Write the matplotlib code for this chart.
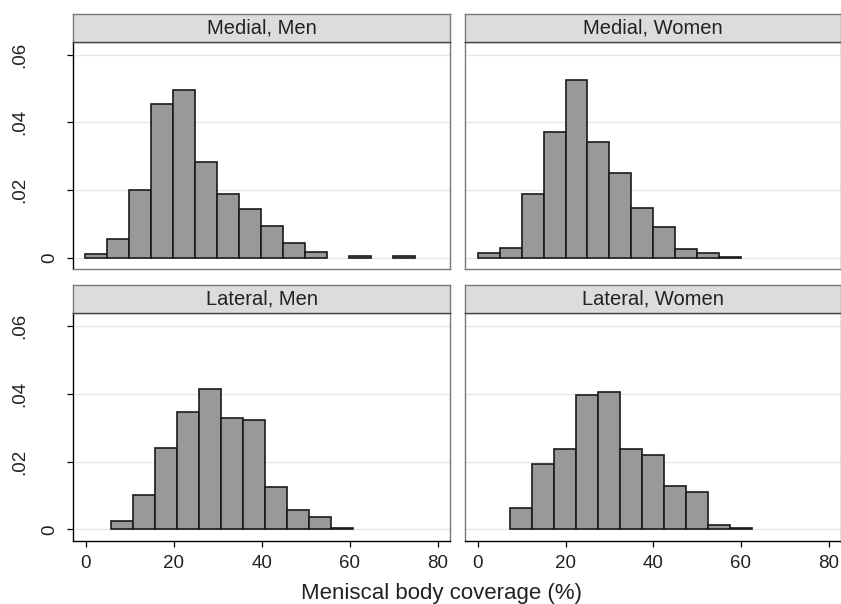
import matplotlib.pyplot as plt
import numpy as np

plt.rcParams['font.family'] = ['Liberation Sans', 'DejaVu Sans']

# densities, bins of width 5
bin_width = 5.0

medial_men_start = -0.15
medial_men = [0.0012, 0.0057, 0.0201, 0.0454, 0.0494, 0.0284, 0.0190, 0.0145,
              0.0095, 0.0043, 0.0019, 0.0, 0.0005, 0.0, 0.0005]

medial_women_start = 0.0
medial_women = [0.0015, 0.0030, 0.0188, 0.0372, 0.0525, 0.0341, 0.0250, 0.0147,
                0.0092, 0.0026, 0.0015, 0.0003]

lateral_men_start = 5.7
lateral_men = [0.0025, 0.0101, 0.0240, 0.0345, 0.0415, 0.0327, 0.0321, 0.0125,
               0.0057, 0.0037, 0.0005]

lateral_women_start = 7.45
lateral_women = [0.0062, 0.0193, 0.0238, 0.0396, 0.0406, 0.0238, 0.0219, 0.0128,
                 0.0109, 0.0012, 0.0005]

titles = ['Medial, Men', 'Medial, Women', 'Lateral, Men', 'Lateral, Women']
starts = [medial_men_start, medial_women_start, lateral_men_start, lateral_women_start]
series = [medial_men, medial_women, lateral_men, lateral_women]

y_ticks = [0, 0.02, 0.04, 0.06]
y_labels = ['0', '.02', '.04', '.06']
x_ticks = [0, 20, 40, 60, 80]

W, H = 841, 604
fig = plt.figure(figsize=(W / 100, H / 100), dpi=100)

# panel boxes in pixels: (left, right, strip top, plot top, plot bottom)
cols = [(73, 450), (465.3, 840.5)]
rows = [(14, 42, 269.3), (285, 313.3, 540.7)]

gray_edge = '#7a7a7a'

for i, (title, start, vals) in enumerate(zip(titles, starts, series)):
    r, c = divmod(i, 2)
    x0, x1 = cols[c]
    s_top, p_top, p_bot = rows[r]

    ax = fig.add_axes([x0 / W, (H - p_bot) / H, (x1 - x0) / W, (p_bot - p_top) / H])
    st = fig.add_axes([x0 / W, (H - p_top) / H, (x1 - x0) / W, (p_top - s_top) / H])

    # strip
    st.set_facecolor('#dcdcdc')
    st.set_xticks([])
    st.set_yticks([])
    for sp in st.spines.values():
        sp.set_color(gray_edge)
        sp.set_linewidth(1.0)
    st.spines['bottom'].set_color('#444444')
    st.text(0.5, 0.5, title, transform=st.transAxes, ha='center', va='center',
            fontsize=14.5, color='#222222')

    # bars
    vals = np.array(vals)
    edges = start + bin_width * np.arange(len(vals))
    keep = vals > 0
    ax.bar(edges[keep], vals[keep], width=bin_width, align='edge',
           color='#999999', edgecolor='#1a1a1a', linewidth=1.2, zorder=3)

    ax.set_xlim(-2.85, 82.7)
    ax.set_ylim(-0.00335, 0.0637)
    ax.set_yticks(y_ticks)
    ax.grid(axis='y', color='#e8e8e8', linewidth=1.0, zorder=0)
    ax.set_axisbelow(True)

    for sp in ax.spines.values():
        sp.set_color(gray_edge)
        sp.set_linewidth(1.0)

    ax.tick_params(axis='both', labelsize=13.5, length=4.5, width=0.9, color='black')
    ax.tick_params(axis='y', labelleft=False)
    if c == 0:
        ax.spines['left'].set_color('black')
        for yv, lab in zip(y_ticks, y_labels):
            xp = 50 if lab == '0' else 20
            ax.text((xp - x0) / (x1 - x0), yv, lab, transform=ax.get_yaxis_transform(),
                    rotation=90, ha='center', va='center', fontsize=13.5, color='#222222')
    else:
        ax.tick_params(axis='y', length=0)

    if r == 1:
        ax.spines['bottom'].set_color('black')
        ax.set_xticks(x_ticks)
        ax.tick_params(axis='x', pad=6, labelcolor='#222222')
    else:
        ax.set_xticks([])

fig.text(441.5 / W, 5 / H, 'Meniscal body coverage (%)', ha='center', va='baseline',
         fontsize=16, color='#222222')

fig.savefig('out.png', dpi=100)
